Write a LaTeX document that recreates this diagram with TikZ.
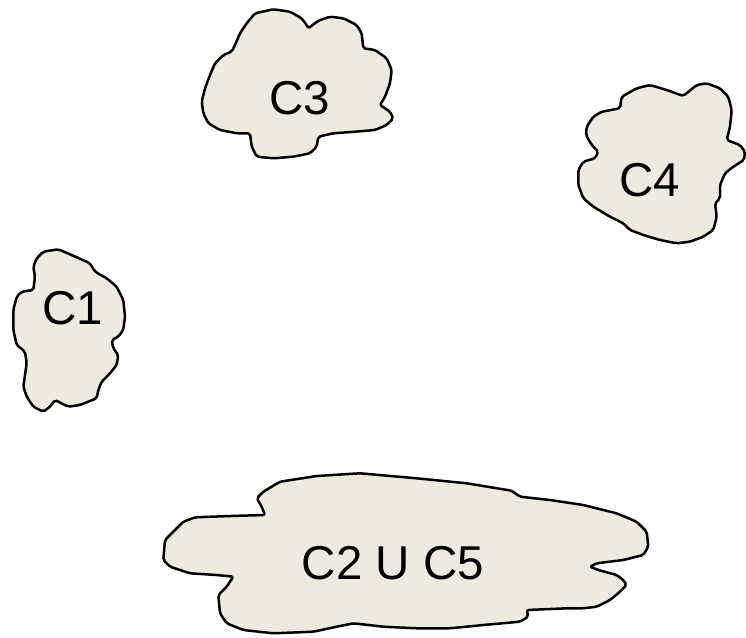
\documentclass[tikz,border=0pt]{standalone}
\usepackage{fontspec}
\setmainfont{Liberation Sans}
\definecolor{blobfill}{HTML}{EDEBE1}
\begin{document}
\begin{tikzpicture}[x=1pt,y=-1pt,
  blob/.style={draw=black,fill=blobfill,line width=2.5pt,line join=round,rounded corners=2pt},
  lbl/.style={font=\fontsize{47.5}{56}\selectfont,text=black,inner sep=0pt}]
\useasboundingbox (0,0) rectangle (746,637);
% C3
\path[blob] (255,13.3) -- (273.3,9.3) -- (290,11.7) -- (301.7,18.3) -- (306.7,25) -- (308.3,28.3) -- (318.3,20.7) -- (330,16.7) -- (343.3,18.3) -- (356.7,25) -- (361.7,33.3) -- (363.3,48.3) -- (375,50) -- (386.7,58.3) -- (391.7,70) -- (390,83.3) -- (385,96.7) -- (380,105) -- (390,111.7) -- (393.3,118.3) -- (386.7,125) -- (375,130) -- (355,131.7) -- (333.3,133.3) -- (318.3,136.7) -- (316.7,146.7) -- (310,153.3) -- (293.3,156.7) -- (273.3,158.3) -- (256.7,156.7) -- (251.7,146.7) -- (250,133.3) -- (236.7,133.3) -- (220,130) -- (208.3,123.3) -- (203.3,113.3) -- (201.7,101.7) -- (205,88.3) -- (210,75) -- (215,63.3) -- (223.3,55) -- (231.7,51.7) -- (235,45) -- (240,33.3) -- (246.7,23.3) -- cycle;
% C4
\path[blob] (621.7,96.7) -- (636.7,88.3) -- (650,85) -- (666.7,90) -- (683.3,96) -- (696.7,85) -- (706.7,83.3) -- (720,88.3) -- (728.3,96.7) -- (731.7,110) -- (730,126.7) -- (726.7,140) -- (740,145) -- (745,151.7) -- (744,160) -- (733.3,166.7) -- (725,173.3) -- (720,185) -- (720,198.3) -- (715,203.3) -- (716.7,216.7) -- (713.3,230) -- (703.3,236.7) -- (690,241.7) -- (676.7,243.3) -- (660,240) -- (643.3,235) -- (630,230) -- (623.3,223.3) -- (610,216.7) -- (593.3,206.7) -- (583.3,198.3) -- (578.3,185) -- (578.3,170) -- (583.3,161.7) -- (595,158.3) -- (598.3,151.7) -- (591.7,145) -- (586,135) -- (586.7,126.7) -- (593.3,116.7) -- (601.7,111.7) -- (620,108.3) -- cycle;
% C1
\path[blob] (43.3,251.7) -- (58.3,249.3) -- (71.7,255) -- (90,263.3) -- (95,271.7) -- (106.7,278.3) -- (116.7,286.7) -- (123.3,300) -- (125,316.7) -- (123.3,330) -- (118.3,336.7) -- (111.7,340) -- (113.3,348.3) -- (118.3,355) -- (116.7,365) -- (110,373.3) -- (101.7,381.7) -- (98.3,390) -- (96.7,398.3) -- (80,405) -- (68.3,406.7) -- (55,400) -- (50,406.7) -- (43.3,411.7) -- (33.3,406.7) -- (26.7,396.7) -- (23.3,386.7) -- (25,375) -- (26.7,363.3) -- (25,351.7) -- (16.7,345) -- (13.3,330) -- (13.3,310) -- (16.7,296.7) -- (21.7,291.7) -- (33.3,290) -- (35,276.7) -- (33.3,266.7) -- (36.7,258.3) -- cycle;
% C2 U C5
\path[blob] (280,481.7) -- (316.7,476) -- (360,473.3) -- (416.7,478.3) -- (466.7,483.3) -- (511.7,490.7) -- (520,496.7) -- (550,500) -- (583.3,505) -- (616.7,513.3) -- (636.7,521.7) -- (646.7,531.7) -- (648.3,546.7) -- (643.3,555) -- (623.3,560) -- (596.7,563.3) -- (590,566.7) -- (598.3,570) -- (616.7,575) -- (623.3,580) -- (626.7,585) -- (620,591.7) -- (610,600) -- (596.7,606.7) -- (583.3,608.3) -- (566.7,608.3) -- (526.7,610) -- (528.3,616.7) -- (520,621.7) -- (483.3,625) -- (450,628.3) -- (416.7,628.3) -- (383.3,626.7) -- (353.3,623.3) -- (336.7,626.7) -- (313.3,631.7) -- (273.3,633.3) -- (243.3,630) -- (226.7,623.3) -- (220,613.3) -- (218.3,595) -- (226.7,586.7) -- (233.3,576.7) -- (216.7,575) -- (190,573.3) -- (170,566.7) -- (163.3,560) -- (165,540) -- (175,530) -- (183.3,521.7) -- (195,517.3) -- (230,516) -- (265,515) -- (261.7,506.7) -- (256.7,498.3) -- (263.3,491.7) -- cycle;
% labels
\node[lbl] (c3) at (300,98) {C3};
\node[lbl] (c4) at (650,180) {C4};
\node[lbl] (c1) at (73,308) {C1};
\node[lbl] (c25) at (393,563) {C2 U C5};
\end{tikzpicture}
\end{document}
